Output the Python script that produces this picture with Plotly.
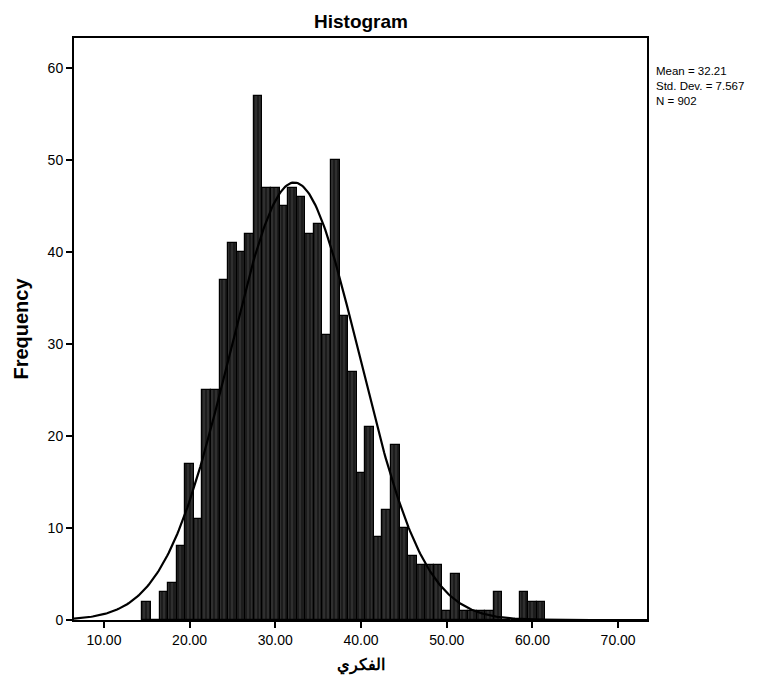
import numpy as np
import plotly.graph_objects as go

# Histogram bins (score value) and counts
bin_centers = list(range(15, 62))
counts = [2, 0, 3, 4, 8, 17, 11, 25, 25, 37, 41, 40, 42, 57, 47, 47, 45, 47, 46, 42,
          43, 31, 50, 33, 27, 16, 21, 9, 12, 19, 10, 7, 6, 6, 6, 1, 5, 1, 1, 1, 1, 3,
          0, 0, 3, 2, 2]

mean_val = 32.21
sd_val = 7.567
n_val = 902
bin_width = 1.0

x_tickvals = [10, 20, 30, 40, 50, 60, 70]
x_ticktext = ["10.00", "20.00", "30.00", "40.00", "50.00", "60.00", "70.00"]
y_tickvals = [0, 10, 20, 30, 40, 50, 60]

x_range = [6.51, 73.37]
y_range = [0, 63.26]

# normal curve from the reported statistics
xc = np.linspace(x_range[0], x_range[1], 400)
yc = n_val * bin_width / (sd_val * np.sqrt(2 * np.pi)) * np.exp(-0.5 * ((xc - mean_val) / sd_val) ** 2)

font_main = "Liberation Sans, Arial, sans-serif"

W, H = 763, 679
L, R, T, B = 64, 124, 30, 67

fig = go.Figure()
fig.add_trace(go.Bar(
    x=bin_centers, y=counts, width=bin_width,
    marker=dict(color="#1c1c1c", line=dict(color="black", width=1.2),
                pattern=dict(shape="|", fgcolor="#9a9a9a", bgcolor="#1c1c1c",
                             size=4, solidity=0.15)),
    showlegend=False, hoverinfo="x+y",
))
fig.add_trace(go.Scatter(
    x=xc, y=yc, mode="lines", line=dict(color="black", width=2.2),
    showlegend=False, hoverinfo="skip",
))

fig.update_layout(
    width=W, height=H,
    margin=dict(l=L, r=R, t=T, b=B),
    paper_bgcolor="white", plot_bgcolor="white",
    bargap=0,
    font=dict(family=font_main, color="black"),
)
fig.add_annotation(
    text="<b>Histogram</b>", xref="paper", yref="paper",
    x=0.5, y=1, yshift=4, xanchor="center", yanchor="bottom", showarrow=False,
    font=dict(family=font_main, size=19, color="black"),
)
fig.update_xaxes(
    range=x_range, tickvals=x_tickvals, ticktext=x_ticktext,
    showline=True, linecolor="black", linewidth=2, mirror=True,
    ticks="outside", ticklen=6, tickwidth=1.5, tickcolor="black",
    showgrid=False, zeroline=False,
    tickfont=dict(family=font_main, size=14, color="black"),
    title=dict(text="<b>الفكري</b>", standoff=12,
               font=dict(family=font_main, size=16, color="black")),
)
fig.update_yaxes(
    range=y_range, tickvals=y_tickvals,
    showline=True, linecolor="black", linewidth=2, mirror=True,
    ticks="outside", ticklen=6, tickwidth=1.5, tickcolor="black",
    showgrid=False, zeroline=False,
    tickfont=dict(family=font_main, size=14, color="black"),
    title=dict(text="<b>Frequency</b>", standoff=14,
               font=dict(family=font_main, size=20, color="black")),
)

stats_text = "<br>".join(["Mean = %.2f" % mean_val, "Std. Dev. = %.3f" % sd_val, "N = %d" % n_val])
fig.add_annotation(
    text=stats_text, xref="paper", yref="paper",
    x=1.0, xshift=7, y=1 - 25 / (H - T - B), xanchor="left", yanchor="top",
    showarrow=False, align="left",
    font=dict(family=font_main, size=11.5, color="black"),
)

fig.write_html("out.html")
